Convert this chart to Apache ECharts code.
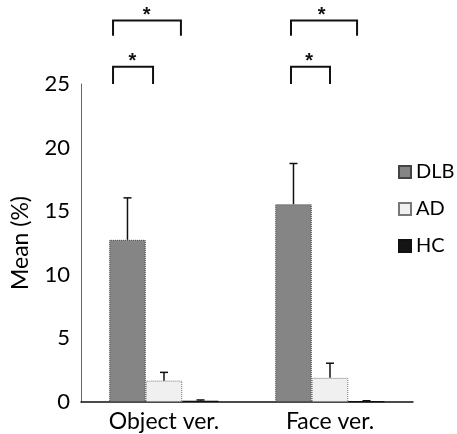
<!DOCTYPE html>
<html>
<head>
<meta charset="utf-8">
<script src="https://cdn.jsdelivr.net/npm/echarts@6/dist/echarts.min.js"></script>
<style>html,body{margin:0;padding:0;background:#fff}#c{width:457px;height:434px}</style>
</head>
<body>
<div id="c"></div>
<script>
const categories = ['Object ver.', 'Face ver.'];
const seriesNames = ['DLB', 'AD', 'HC'];
const dlbMean = [12.75, 15.55];
const adMean = [1.68, 1.9];
const hcMean = [0.1, 0.06];
const dlbUpper = [16.05, 18.75];
const adUpper = [2.33, 3.05];
const hcUpper = [0.16, 0.1];
const yTicks = [0, 5, 10, 15, 20, 25];
// brackets: [categoryIndex, leftOffset, rightOffset, topValue, bottomValue, starOffset]
const brackets = [
  [0, -0.307, 0.102, 30.0, 28.8, -0.105],
  [0, -0.307, -0.066, 26.35, 25.0, -0.19],
  [1, -0.235, 0.163, 30.0, 28.8, -0.05],
  [1, -0.235, 0.0, 26.35, 25.0, -0.125]
];

const colors = ['#858585', '#f0f0f0', '#151515'];
const borders = ['#444', '#777', '#111'];
const means = [dlbMean, adMean, hcMean];
const uppers = [dlbUpper, adUpper, hcUpper];

const errData = [];
for (let s = 0; s < 3; s++) {
  for (let c = 0; c < categories.length; c++) {
    errData.push([c, means[s][c], uppers[s][c], s]);
  }
}

const chart = echarts.init(document.getElementById('c'));
const font = 'Lato, "Open Sans", "Liberation Sans", sans-serif';

const barSeries = seriesNames.map((n, i) => ({
  name: n,
  type: 'bar',
  data: means[i],
  barGap: '0%',
  barCategoryGap: '34%',
  itemStyle: { color: colors[i], borderColor: borders[i], borderWidth: 1, borderType: i === 2 ? 'solid' : 'dotted' },
  emphasis: { disabled: true }
}));

chart.setOption({
  animation: false,
  textStyle: { fontFamily: font },
  grid: { left: 81, right: 44, top: 84, bottom: 32 },
  legend: {
    orient: 'vertical',
    left: 393,
    top: 157,
    itemWidth: 12,
    itemHeight: 12,
    itemGap: 17,
    icon: 'rect',
    data: seriesNames,
    textStyle: { fontSize: 20, color: '#000', fontFamily: font },
    selectedMode: false
  },
  xAxis: {
    type: 'category',
    data: categories,
    axisLine: { lineStyle: { color: '#111', width: 1.5 } },
    axisTick: { show: false },
    axisLabel: { fontSize: 23, color: '#000', margin: 8, fontFamily: font }
  },
  yAxis: {
    type: 'value',
    min: 0, max: 25, interval: 5,
    name: 'Mean (%)',
    nameLocation: 'middle',
    nameGap: 49,
    nameTextStyle: { fontSize: 23, color: '#000', fontFamily: font },
    axisLine: { show: true, lineStyle: { color: '#666', width: 1 } },
    axisTick: { show: false },
    splitLine: { show: false },
    axisLabel: { fontSize: 22, color: '#000', margin: 11, fontFamily: font,
      formatter: v => yTicks.includes(v) ? String(v) : '' }
  },
  series: barSeries.concat([
    {
      type: 'custom',
      name: 'err',
      data: errData,
      z: 5,
      clip: false,
      renderItem: function (params, api) {
        const c = api.value(0), lo = api.value(1), hi = api.value(2), s = api.value(3);
        const band = api.size([1, 0])[0];
        const bw = band * 0.66 / 3;
        const center = api.coord([c, 0])[0];
        const x = center + (s - 1) * bw;
        const y0 = api.coord([c, lo])[1];
        const y1 = api.coord([c, hi])[1];
        const cap = 4;
        return {
          type: 'group',
          children: [
            { type: 'line', shape: { x1: x, y1: y0, x2: x, y2: y1 }, style: { stroke: '#111', lineWidth: 1.5 } },
            { type: 'line', shape: { x1: x - cap, y1: y1, x2: x + cap, y2: y1 }, style: { stroke: '#111', lineWidth: 1.5 } }
          ]
        };
      }
    },
    {
      type: 'custom',
      name: 'sig',
      data: brackets,
      z: 5,
      clip: false,
      renderItem: function (params, api) {
        const c = api.value(0);
        const band = api.size([1, 0])[0];
        const center = api.coord([c, 0])[0];
        const xl = center + api.value(1) * band;
        const xr = center + api.value(2) * band;
        const yt = api.coord([c, api.value(3)])[1];
        const yb = api.coord([c, api.value(4)])[1];
        const xs = center + api.value(5) * band;
        return {
          type: 'group',
          children: [
            { type: 'polyline', shape: { points: [[xl, yb], [xl, yt], [xr, yt], [xr, yb]] }, style: { stroke: '#111', lineWidth: 2, fill: null } },
            { type: 'text', style: { text: '*', x: xs, y: yt + 5, align: 'center', verticalAlign: 'bottom', font: 'bold 20px "Liberation Sans", sans-serif', fill: '#111' } }
          ]
        };
      }
    }
  ])
});
</script>
</body>
</html>
